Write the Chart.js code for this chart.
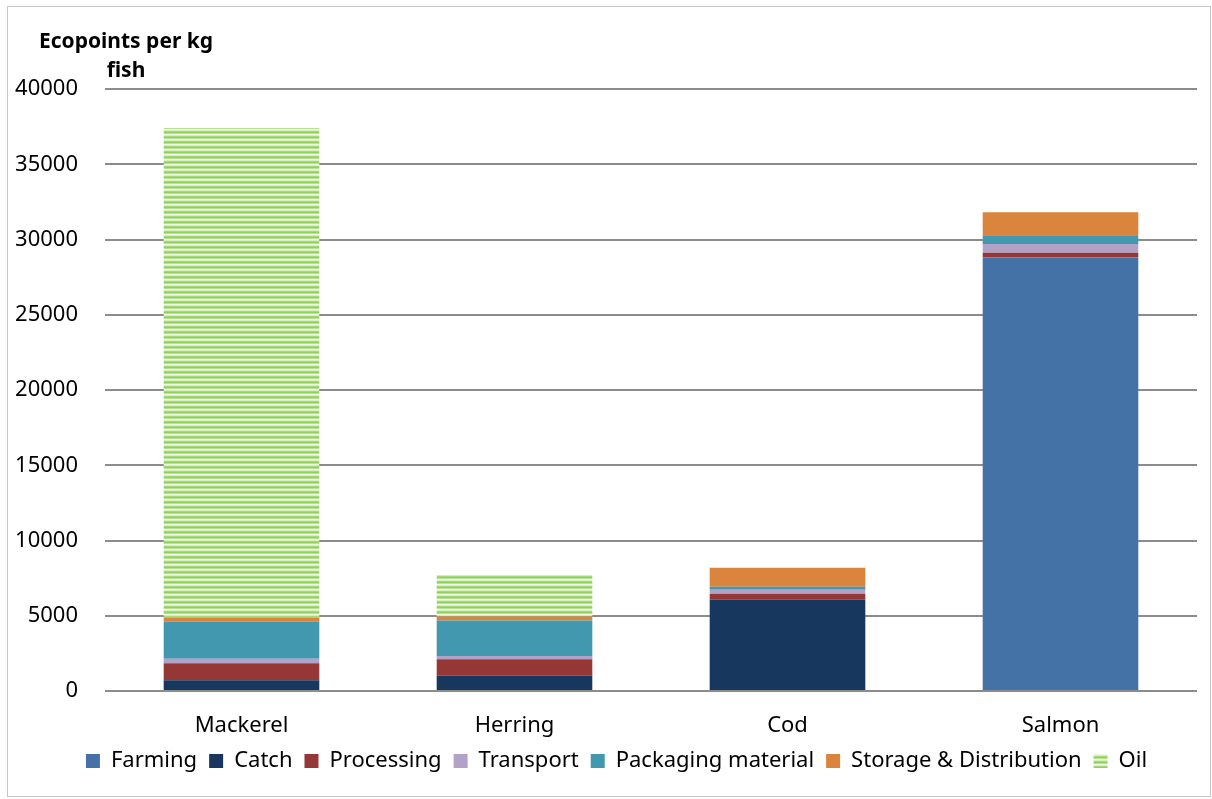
<!DOCTYPE html>
<html lang="en">

<head>
    <meta charset="UTF-8">
    <title>Ecopoints per kg fish</title>
    <script src="https://cdn.jsdelivr.net/npm/chart.js@4.4.3/dist/chart.umd.min.js"></script>
    <style>
        body { margin: 0; background: #fff; }
        #frame { position: absolute; left: 7px; top: 6px; width: 1204px; height: 791px; border: 1px solid #c8c8c8; box-sizing: border-box; }
        #wrap { position: absolute; left: 0; top: 0; width: 1212px; height: 799px; }
    </style>
</head>

<body>
    <div id="frame"></div>
    <div id="wrap"><canvas id="mychart" width="1212" height="799"></canvas></div>

    <script>
        // fish species on the x axis
        const fish = ['Mackerel', 'Herring', 'Cod', 'Salmon'];

        // ecopoints per kg fish, one array per life-cycle stage
        const farming   = [0, 0, 0, 28800];
        const catchFish = [710, 1020, 6080, 0];
        const processing = [1135, 1090, 380, 320];
        const transport = [290, 220, 265, 580];
        const packaging = [2465, 2350, 200, 580];
        const storage   = [265, 270, 1265, 1530];
        const oil       = [32540, 2775, 0, 0];

        const yTicks = [0, 5000, 10000, 15000, 20000, 25000, 30000, 35000, 40000];

        const font = "'Noto Sans', sans-serif";

        // horizontal green stripes for the Oil stage
        function stripes() {
            const c = document.createElement('canvas');
            c.width = 4;
            c.height = 5;
            const g = c.getContext('2d');
            const rows = ['#d6eec0', '#a6da78', '#92cf5c', '#b9e295', '#eef8e6'];
            rows.forEach((col, i) => {
                g.fillStyle = col;
                g.fillRect(0, i, 4, 1);
            });
            return g.createPattern(c, 'repeat');
        }

        const titlePlugin = {
            id: 'cornerTitle',
            afterLayout(chart) {
                // the legend sits a little right of the centre of the page
                chart.legend.left += 18;
                chart.legend.right += 18;
            },
            afterDraw(chart) {
                const ctx = chart.ctx;
                ctx.save();
                ctx.fillStyle = '#000';
                ctx.font = "bold 21px " + font;
                ctx.textAlign = 'center';
                ctx.textBaseline = 'middle';
                ctx.fillText('Ecopoints per kg', 126, 42);
                ctx.fillText('fish', 126, 71);
                ctx.restore();
            }
        };

        var data = {
            labels: fish,
            datasets: [
                { label: 'Farming', data: farming, backgroundColor: '#4472a6' },
                { label: 'Catch', data: catchFish, backgroundColor: '#18375e' },
                { label: 'Processing', data: processing, backgroundColor: '#953735' },
                { label: 'Transport', data: transport, backgroundColor: '#b3a2c7' },
                { label: 'Packaging material', data: packaging, backgroundColor: '#4198af' },
                { label: 'Storage & Distribution', data: storage, backgroundColor: '#db843d' },
                { label: 'Oil', data: oil, backgroundColor: stripes() }
            ]
        };

        var config = {
            type: 'bar',
            data: data,
            plugins: [titlePlugin],
            options: {
                responsive: false,
                animation: false,
                datasets: {
                    bar: { categoryPercentage: 1, barPercentage: 0.57 }
                },
                layout: {
                    padding: { top: 89, right: 15, bottom: 17, left: 0 }
                },
                scales: {
                    x: {
                        stacked: true,
                        grid: { display: false },
                        border: { display: false },
                        ticks: { color: '#000', font: { family: font, size: 22 }, padding: 14 },
                        afterFit(scale) { scale.height = 47; }
                    },
                    y: {
                        stacked: true,
                        min: 0,
                        max: 40000,
                        afterBuildTicks(scale) { scale.ticks = yTicks.map(v => ({ value: v })); },
                        grid: { color: '#8c8c8c', lineWidth: 2, drawTicks: false },
                        border: { display: false },
                        ticks: {
                            color: '#000',
                            font: { family: font, size: 22 },
                            padding: 27,
                            callback: v => String(v)
                        },
                        afterFit(scale) { scale.width = 105; }
                    }
                },
                plugins: {
                    legend: {
                        display: true,
                        position: 'bottom',
                        labels: {
                            color: '#000',
                            font: { family: font, size: 22 },
                            boxWidth: 14,
                            boxHeight: 14,
                            padding: 12
                        }
                    },
                    tooltip: { enabled: false }
                }
            }
        };

        var mychart = new Chart(
            document.getElementById('mychart'),
            config
        );
    </script>
</body>

</html>
